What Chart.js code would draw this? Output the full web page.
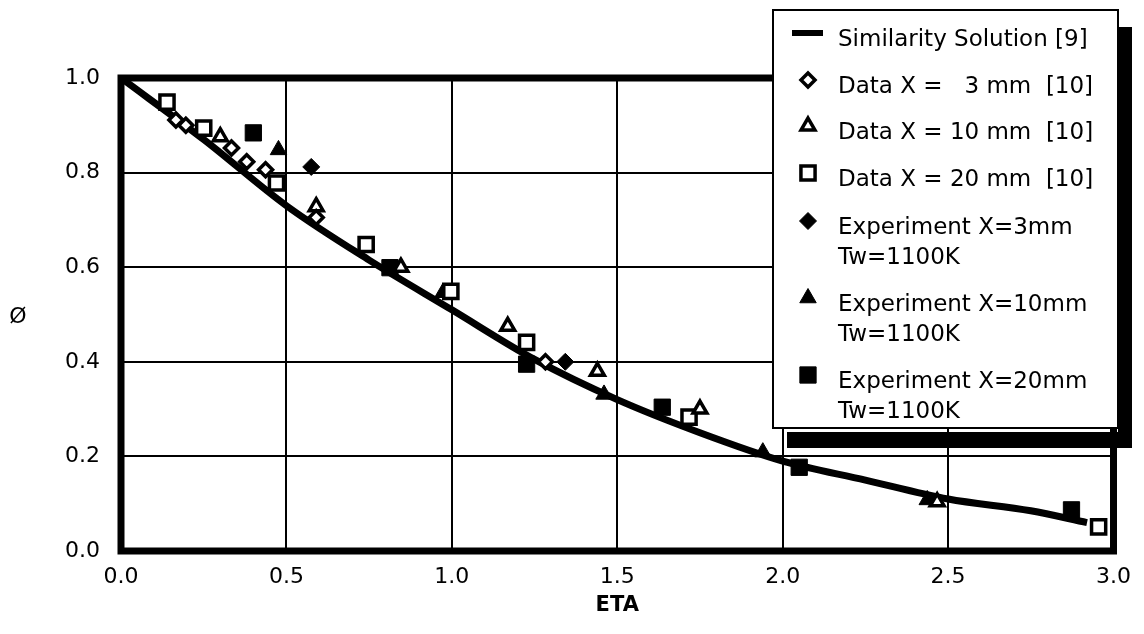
<!DOCTYPE html>
<html>
<head>
<meta charset="utf-8">
<script src="https://cdn.jsdelivr.net/npm/chart.js@4.4.1/dist/chart.umd.min.js"></script>
<style>
  html, body { margin: 0; padding: 0; background: #fff; }
  canvas { display: block; }
</style>
</head>
<body>
<canvas id="chart" width="1144" height="634"></canvas>
<script>
// Similarity Solution [9]
const etaSim = [0, 0.25, 0.5, 0.75, 1.0, 1.25, 1.5, 1.75, 2.0, 2.25, 2.5, 2.75, 2.92]
const phiSim = [1.0, 0.87, 0.73, 0.615, 0.51, 0.405, 0.32, 0.25, 0.19, 0.15, 0.11, 0.085, 0.06]

// Data [10]
const eta3mm = [0.166, 0.196, 0.334, 0.38, 0.437, 0.59, 1.283]
const phi3mm = [0.911, 0.90, 0.852, 0.823, 0.806, 0.705, 0.40]
const eta10mm = [0.30, 0.59, 0.846, 1.169, 1.44, 1.75, 2.467]
const phi10mm = [0.876, 0.728, 0.60, 0.475, 0.38, 0.30, 0.104]
const eta20mm = [0.139, 0.25, 0.47, 0.741, 0.997, 1.226, 1.717, 2.955]
const phi20mm = [0.949, 0.894, 0.778, 0.648, 0.549, 0.441, 0.283, 0.051]

// Experiment, Tw = 1100K
const etaExp3 = [0.575, 1.343]
const phiExp3 = [0.812, 0.40]
const etaExp10 = [0.476, 0.973, 1.46, 1.94, 2.437]
const phiExp10 = [0.848, 0.546, 0.331, 0.209, 0.108]
const etaExp20 = [0.40, 0.813, 1.226, 1.636, 2.05, 2.873]
const phiExp20 = [0.884, 0.599, 0.395, 0.304, 0.177, 0.087]

const xTicks = [0, 0.5, 1.0, 1.5, 2.0, 2.5, 3.0]
const yTicks = [0, 0.2, 0.4, 0.6, 0.8, 1.0]

const FONT = "'DejaVu Sans', sans-serif"

const pts = (xs, ys) => xs.map((x, i) => ({ x: x, y: ys[i] }))

const openMarker = (label, xs, ys, style, radius) => ({
  label: label,
  data: pts(xs, ys),
  pointStyle: style,
  pointRadius: radius,
  pointBackgroundColor: '#fff',
  pointBorderColor: '#000',
  pointBorderWidth: 3.5,
  showLine: false,
})

const filledMarker = (label, xs, ys, style, radius) => ({
  label: label,
  data: pts(xs, ys),
  pointStyle: style,
  pointRadius: radius,
  pointBackgroundColor: '#000',
  pointBorderColor: '#000',
  pointBorderWidth: 1,
  showLine: false,
})

const datasets = [
  {
    label: 'Similarity Solution [9]',
    data: pts(etaSim, phiSim),
    showLine: true,
    borderColor: '#000',
    borderWidth: 7,
    pointRadius: 0,
    cubicInterpolationMode: 'monotone',
    order: 10,
  },
  openMarker('Data X =   3 mm  [10]', eta3mm, phi3mm, 'rectRot', 7),
  openMarker('Data X = 10 mm  [10]', eta10mm, phi10mm, 'triangle', 8),
  openMarker('Data X = 20 mm  [10]', eta20mm, phi20mm, 'rect', 10),
  filledMarker('Experiment X=3mm\nTw=1100K', etaExp3, phiExp3, 'rectRot', 8.5),
  filledMarker('Experiment X=10mm\nTw=1100K', etaExp10, phiExp10, 'triangle', 9.5),
  filledMarker('Experiment X=20mm\nTw=1100K', etaExp20, phiExp20, 'rect', 11.5),
]

// heavy black frame round the plot area
const framePlugin = {
  id: 'frame',
  beforeDatasetsDraw(chart) {
    const { ctx, chartArea: a } = chart
    ctx.save()
    ctx.strokeStyle = '#000'
    ctx.lineWidth = 7
    ctx.strokeRect(a.left, a.top, a.right - a.left, a.bottom - a.top)
    ctx.restore()
  }
}

// upright y title (the built-in one is rotated)
const yTitlePlugin = {
  id: 'yTitle',
  afterDraw(chart) {
    const { ctx, chartArea: a } = chart
    ctx.save()
    ctx.fillStyle = '#000'
    ctx.font = '22px ' + FONT
    ctx.textAlign = 'center'
    ctx.textBaseline = 'middle'
    ctx.fillText('Ø', 18, (a.top + a.bottom) / 2 + 3)
    ctx.restore()
  }
}

// boxed legend with a drop shadow, multi-line labels
const boxLegendPlugin = {
  id: 'boxLegend',
  afterDraw(chart) {
    const ctx = chart.ctx
    const left = 773, top = 10, w = 345, h = 418
    const rowY = [30, 77, 123, 170, 218, 295, 372]
    ctx.save()
    ctx.fillStyle = '#000'
    ctx.fillRect(left + w, top + 17, 14, h + 3)
    ctx.fillRect(left + 14, top + h + 4, w, 16)
    ctx.fillStyle = '#fff'
    ctx.fillRect(left, top, w, h)
    ctx.strokeStyle = '#000'
    ctx.lineWidth = 2
    ctx.strokeRect(left, top, w, h)

    ctx.font = '23px ' + FONT
    ctx.textBaseline = 'middle'
    ctx.textAlign = 'left'
    chart.data.datasets.forEach((ds, i) => {
      const y = top + rowY[i]
      const sx = left + 35
      if (ds.showLine) {
        ctx.fillStyle = '#000'
        ctx.fillRect(sx - 16, y - 10, 31, 6)
      } else {
        ctx.fillStyle = ds.pointBackgroundColor
        ctx.strokeStyle = ds.pointBorderColor
        ctx.lineWidth = ds.pointBorderWidth
        Chart.helpers.drawPoint(ctx, {
          pointStyle: ds.pointStyle,
          radius: ds.pointRadius,
          rotation: 0,
          borderWidth: ds.pointBorderWidth,
        }, sx, y - 7)
      }
      ctx.fillStyle = '#000'
      ds.label.split('\n').forEach((line, j) => {
        ctx.fillText(line, left + 65, y + j * 30)
      })
    })
    ctx.restore()
  }
}

new Chart(document.getElementById('chart'), {
  type: 'scatter',
  data: { datasets: datasets },
  options: {
    responsive: false,
    animation: false,
    layout: { padding: { top: 78, right: 27, left: 0, bottom: 0 } },
    scales: {
      x: {
        type: 'linear',
        min: 0,
        max: 3,
        afterBuildTicks: s => { s.ticks = xTicks.map(v => ({ value: v })) },
        afterFit: s => { s.height = 83 },
        grid: { color: '#000', lineWidth: 2, drawTicks: false },
        border: { display: false },
        ticks: {
          color: '#000',
          padding: 13,
          font: { family: FONT, size: 22 },
          callback: v => v.toFixed(1),
        },
        title: {
          display: true,
          text: 'ETA',
          color: '#000',
          font: { family: FONT, size: 21, weight: 'bold' },
          padding: { top: 0, bottom: 16 },
        },
      },
      y: {
        type: 'linear',
        min: 0,
        max: 1,
        afterBuildTicks: s => { s.ticks = yTicks.map(v => ({ value: v })) },
        afterFit: s => { s.width = 121 },
        grid: { color: '#000', lineWidth: 2, drawTicks: false },
        border: { display: false },
        ticks: {
          color: '#000',
          padding: 21,
          font: { family: FONT, size: 22 },
          callback: v => v.toFixed(1),
        },
      },
    },
    plugins: {
      legend: { display: false },
      tooltip: { enabled: false },
    },
  },
  plugins: [framePlugin, yTitlePlugin, boxLegendPlugin],
})
</script>
</body>
</html>
